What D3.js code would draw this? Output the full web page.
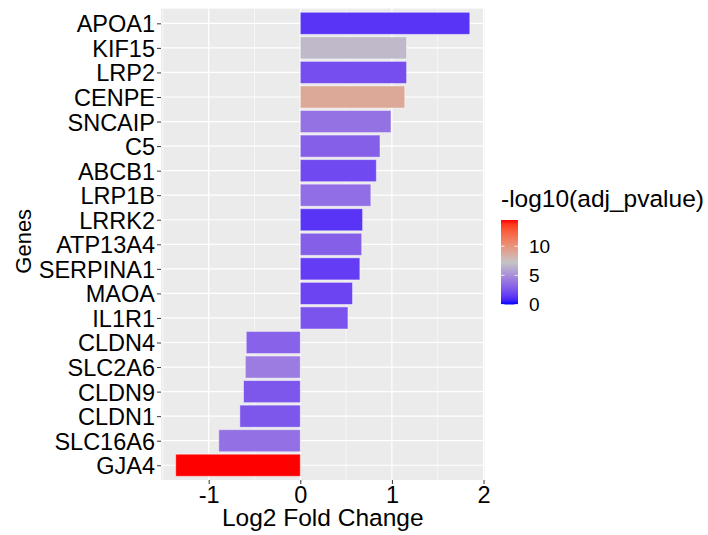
<!DOCTYPE html>
<html>
<head>
<meta charset="utf-8">
<script src="https://cdn.jsdelivr.net/npm/d3@7"></script>
<style>
  body { margin: 0; background: #fff; }
  text { font-family: "Liberation Sans", Arial, sans-serif; }
</style>
</head>
<body>
<script>
// genes, top to bottom
var genes = ["APOA1", "KIF15", "LRP2", "CENPE", "SNCAIP", "C5", "ABCB1", "LRP1B", "LRRK2",
  "ATP13A4", "SERPINA1", "MAOA", "IL1R1", "CLDN4", "SLC2A6", "CLDN9", "CLDN1", "SLC16A6", "GJA4"]
var log2fc = [1.85, 1.16, 1.16, 1.14, 0.99, 0.87, 0.83, 0.77, 0.68,
  0.67, 0.65, 0.57, 0.52, -0.59, -0.60, -0.62, -0.66, -0.89, -1.36]
var padj = [1.3, 6.8, 2.3, 8.9, 3.8, 3.0, 2.1, 3.6, 1.3,
  3.0, 1.6, 1.9, 2.5, 3.1, 4.2, 2.6, 2.6, 3.7, 14.5]
var xTicks = [-1, 0, 1, 2]
var xMinor = [-1.5, -0.5, 0.5, 1.5]
var legendTicks = [0, 5, 10]
var legendLimits = [0, 14.5]

var width = 708, height = 535
var margin = {top: 8.6, right: 223.5, bottom: 55, left: 161}

var data = genes.map((g, i) => ({gene: g, fc: log2fc[i], p: padj[i]}))

// ggplot style 5% expansion, 0 always included
var ext = d3.extent(log2fc.concat([0]))
var pad = (ext[1] - ext[0]) * 0.05

var x = d3.scaleLinear()
  .domain([ext[0] - pad, ext[1] + pad])
  .range([margin.left, width - margin.right])

var y = d3.scalePoint()
  .domain(genes)
  .range([margin.top, height - margin.bottom])
  .padding(0.6)

var color = d3.scaleLinear()
  .domain([legendLimits[0], (legendLimits[0] + legendLimits[1]) / 2, legendLimits[1]])
  .range(["blue", "#c4c4c4", "red"])
  .interpolate(d3.interpolateLab)

var svg = d3.select("body").append("svg")
  .attr("width", width)
  .attr("height", height)
  .attr("viewBox", [0, 0, width, height])

// panel
svg.append("rect")
  .attr("x", margin.left)
  .attr("y", margin.top)
  .attr("width", width - margin.right - margin.left)
  .attr("height", height - margin.bottom - margin.top)
  .attr("fill", "#ebebeb")

svg.append("g").selectAll("line")
  .data(xMinor)
  .join("line")
  .attr("x1", d => x(d)).attr("x2", d => x(d))
  .attr("y1", margin.top).attr("y2", height - margin.bottom)
  .attr("stroke", "#fff").attr("stroke-width", 0.6)

svg.append("g").selectAll("line")
  .data(xTicks)
  .join("line")
  .attr("x1", d => x(d)).attr("x2", d => x(d))
  .attr("y1", margin.top).attr("y2", height - margin.bottom)
  .attr("stroke", "#fff").attr("stroke-width", 1.2)

svg.append("g").selectAll("line")
  .data(genes)
  .join("line")
  .attr("x1", margin.left).attr("x2", width - margin.right)
  .attr("y1", d => y(d)).attr("y2", d => y(d))
  .attr("stroke", "#fff").attr("stroke-width", 1.2)

// bars
var bh = y.step() * 0.9
svg.append("g")
  .selectAll("rect")
  .data(data)
  .join("rect")
  .attr("x", d => x(Math.min(0, d.fc)))
  .attr("y", d => y(d.gene) - bh / 2)
  .attr("width", d => Math.abs(x(d.fc) - x(0)))
  .attr("height", bh)
  .attr("fill", d => color(d.p))
  .attr("stroke", "rgba(255,255,255,0.45)")
  .attr("stroke-width", 1)

// axes
var gx = svg.append("g")
  .attr("transform", "translate(0," + (height - margin.bottom) + ")")
  .call(d3.axisBottom(x).tickValues(xTicks).tickSize(4).tickPadding(2).tickFormat(d3.format("d")))
gx.select(".domain").remove()
gx.selectAll("line").attr("stroke", "#333")
gx.selectAll("text").attr("font-size", 23.5).attr("fill", "#000")
  .text(d => d < 0 ? "-" + Math.abs(d) : d)

var gy = svg.append("g")
  .attr("transform", "translate(" + margin.left + ",0)")
  .call(d3.axisLeft(y).tickSize(4).tickPadding(2))
gy.select(".domain").remove()
gy.selectAll("line").attr("stroke", "#333")
gy.selectAll("text").attr("font-size", 23.5).attr("fill", "#000").attr("dy", "0.36em")

svg.append("text")
  .attr("x", (margin.left + width - margin.right) / 2)
  .attr("y", 526)
  .attr("text-anchor", "middle")
  .attr("font-size", 24.5)
  .text("Log2 Fold Change")

svg.append("text")
  .attr("transform", "translate(31," + ((margin.top + height - margin.bottom) / 2 - 3) + ") rotate(-90)")
  .attr("text-anchor", "middle")
  .attr("font-size", 22)
  .text("Genes")

// colour bar legend
var lx = 501, lw = 17
var ly = d3.scaleLinear().domain(legendLimits).range([304.5, 220])

svg.append("text")
  .attr("x", lx)
  .attr("y", 207)
  .attr("font-size", 24.5)
  .text("-log10(adj_pvalue)")

var defs = svg.append("defs")
var grad = defs.append("linearGradient")
  .attr("id", "cbar")
  .attr("x1", 0).attr("y1", 1).attr("x2", 0).attr("y2", 0)
grad.selectAll("stop")
  .data(d3.range(0, 1.0001, 0.05))
  .join("stop")
  .attr("offset", d => d)
  .attr("stop-color", d => color(legendLimits[0] + d * (legendLimits[1] - legendLimits[0])))

svg.append("rect")
  .attr("x", lx)
  .attr("y", ly(legendLimits[1]))
  .attr("width", lw)
  .attr("height", ly(legendLimits[0]) - ly(legendLimits[1]))
  .attr("fill", "url(#cbar)")

var lt = svg.append("g")
lt.selectAll("line.l")
  .data(legendTicks)
  .join("line")
  .attr("x1", lx).attr("x2", lx + 3.5)
  .attr("y1", d => ly(d)).attr("y2", d => ly(d))
  .attr("stroke", "#fff").attr("stroke-width", 0.8)
lt.selectAll("line.r")
  .data(legendTicks)
  .join("line")
  .attr("x1", lx + lw - 3.5).attr("x2", lx + lw)
  .attr("y1", d => ly(d)).attr("y2", d => ly(d))
  .attr("stroke", "#fff").attr("stroke-width", 0.8)
lt.selectAll("text")
  .data(legendTicks)
  .join("text")
  .attr("x", lx + lw + 11)
  .attr("y", d => ly(d))
  .attr("dy", "0.36em")
  .attr("font-size", 19)
  .text(d => d)
</script>
</body>
</html>
